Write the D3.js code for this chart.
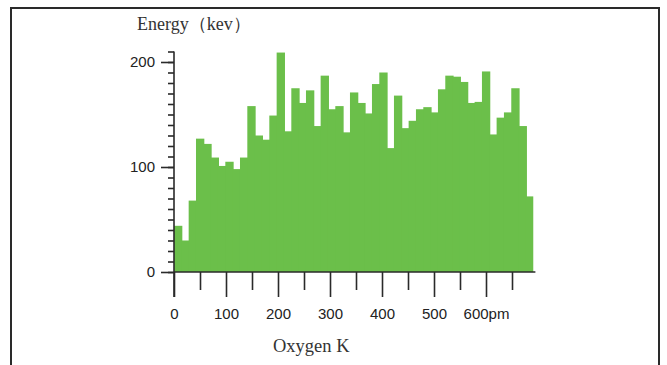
<!DOCTYPE html>
<html>
<head>
<meta charset="utf-8">
<script src="https://cdn.jsdelivr.net/npm/d3@7"></script>
<style>
  html, body { margin: 0; padding: 0; background: #fff; }
  svg { display: block; }
</style>
</head>
<body>
<svg id="chart" width="667" height="365"></svg>
<script>
// Oxygen K line-scan profile: counts per position bin
const binWidth = 14.1; // pm per bin
const energyCounts = [
  44, 30, 68, 127, 122, 109, 101, 105, 98, 109,
  158, 130, 126, 149, 209, 134, 175, 161, 173, 139,
  187, 155, 158, 133, 171, 161, 151, 179, 190, 118,
  168, 137, 144, 155, 157, 152, 174, 187, 186, 181,
  161, 162, 191, 131, 147, 152, 175, 139, 72
];
const xMajorTicks = [0, 100, 200, 300, 400, 500, 600];
const xTickLabels = ["0", "100", "200", "300", "400", "500", "600pm"];
const xMinorTicks = [50, 150, 250, 350, 450, 550, 650];
const yMajorTicks = [0, 100, 200];
const yMinorTicks = d3.range(0, 211, 10);
const yTitle = "Energy（kev）";
const xTitle = "Oxygen K";

const svg = d3.select("#chart");
const ink = "#2a2a2a";

// outer frame (open at the bottom edge of the view)
svg.append("path")
  .attr("d", "M11,400 L11,8 L659,8 L659,400")
  .attr("fill", "none")
  .attr("stroke", ink)
  .attr("stroke-width", 2);

const x = d3.scaleLinear().domain([0, 600]).range([174, 486]);
const y = d3.scaleLinear().domain([0, 200]).range([272, 62]);

// bars: each one overlaps its right neighbour slightly so no seams show
const bins = energyCounts.map((v, i) => ({ x0: i * binWidth, x1: (i + 1) * binWidth, v }));
svg.append("g")
  .selectAll("rect")
  .data(bins)
  .join("rect")
  .attr("x", d => x(d.x0))
  .attr("width", (d, i) => x(d.x1) - x(d.x0) + (i < bins.length - 1 ? 1 : 0))
  .attr("y", d => y(d.v))
  .attr("height", d => y(0) - y(d.v))
  .attr("fill", "#6bbf4a");

const tickFont = "'Liberation Sans', Arial, sans-serif";

// x axis: major ticks with labels, minor ticks without
const xAxisMajor = d3.axisBottom(x)
  .tickValues(xMajorTicks)
  .tickSize(25)
  .tickPadding(11)
  .tickFormat((d, i) => xTickLabels[i]);
const xAxisMinor = d3.axisBottom(x)
  .tickValues(xMinorTicks)
  .tickSize(18)
  .tickFormat("");

const gx = svg.append("g").attr("transform", `translate(0,${y(0)})`).call(xAxisMajor);
const gx2 = svg.append("g").attr("transform", `translate(0,${y(0)})`).call(xAxisMinor);

// y axis
const yAxisMajor = d3.axisLeft(y)
  .tickValues(yMajorTicks)
  .tickSize(13)
  .tickPadding(6)
  .tickFormat(d3.format("d"));
const yAxisMinor = d3.axisLeft(y)
  .tickValues(yMinorTicks)
  .tickSize(6)
  .tickFormat("");

const gy = svg.append("g").attr("transform", `translate(${x(0)},0)`).call(yAxisMajor);
const gy2 = svg.append("g").attr("transform", `translate(${x(0)},0)`).call(yAxisMinor);

[gx, gx2, gy, gy2].forEach(g => {
  g.select(".domain").remove();
  g.selectAll("line").attr("stroke", ink).attr("stroke-width", 1.6);
  g.selectAll("text")
    .attr("fill", "#222")
    .style("font-family", tickFont)
    .style("font-size", "15px");
});

// axis lines
svg.append("line")
  .attr("x1", x(0)).attr("x2", x(695))
  .attr("y1", y(0)).attr("y2", y(0))
  .attr("stroke", ink).attr("stroke-width", 1.6);
svg.append("line")
  .attr("x1", x(0)).attr("x2", x(0))
  .attr("y1", y(210)).attr("y2", y(0) + 25)
  .attr("stroke", ink).attr("stroke-width", 1.6);

// titles
const titleFont = "'Liberation Serif', 'Times New Roman', serif";
svg.append("text")
  .attr("x", 137).attr("y", 30)
  .style("font-family", titleFont)
  .style("font-size", "18px")
  .attr("fill", "#333")
  .text(yTitle);
svg.append("text")
  .attr("x", 273).attr("y", 352)
  .style("font-family", titleFont)
  .style("font-size", "18.5px")
  .attr("fill", "#333")
  .text(xTitle);
</script>
</body>
</html>
